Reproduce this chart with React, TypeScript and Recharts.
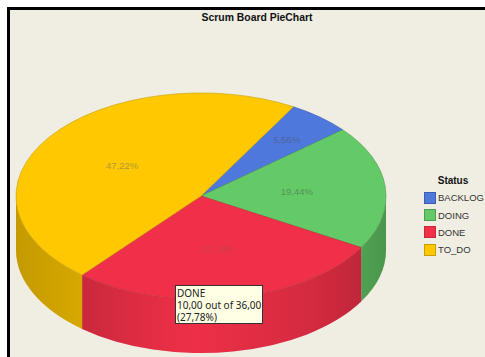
import React from "react";
import { PieChart, Pie, Cell, Legend, Tooltip } from "recharts";

// Scrum board issue counts per status
const statuses = ["BACKLOG", "DOING", "DONE", "TO_DO"];
const counts = [2, 7, 10, 17];
const topColors = ["#4f78dc", "#64ca68", "#f03048", "#ffc800"];
const outline = ["#3c5cae", "#4f9a50", "#c4293c", "#c69f00"];
const labelInk = ["#4e649e", "#569058", "#c9404f", "#b09a38"];

// Shading across the rim: [offset, darkness]
const rimShade: [number, number][] = [
  [0, 0.23],
  [0.18, 0.16],
  [0.34, 0.07],
  [0.48, 0.01],
  [0.6, 0.05],
  [0.8, 0.12],
  [0.93, 0.2],
  [1, 0.26],
];

const rows = statuses.map((name, i) => ({ name, value: counts[i] }));
const total = counts.reduce((a, b) => a + b, 0);

// Vertical squash of the disc and thickness of its rim
const TILT = 0.557;
const DEPTH = 54;
const FONT = "'Liberation Sans', Arial, sans-serif";

const pct = (p: number) => (p * 100).toFixed(2).replace(".", ",") + "%";
const rad = (d: number) => (d * Math.PI) / 180;

function DiscSlice(props: any) {
  const { cx, cy, outerRadius: rx, startAngle, endAngle, index = 0 } = props;
  const ry = rx * TILT;
  const px = (a: number) => cx + rx * Math.cos(rad(a));
  const py = (a: number) => cy - ry * Math.sin(rad(a));
  const large = Math.abs(startAngle - endAngle) > 180 ? 1 : 0;
  const top = `M${cx},${cy} L${px(startAngle)},${py(startAngle)} A${rx},${ry} 0 ${large} 1 ${px(endAngle)},${py(endAngle)} Z`;

  // Only the part of the slice facing the viewer shows a rim
  const a = Math.min(startAngle, 0);
  const b = Math.max(endAngle, -180);
  const gid = `rim-${index}`;
  const rim = `M${px(a)},${py(a)} A${rx},${ry} 0 0 1 ${px(b)},${py(b)} L${px(b)},${py(b) + DEPTH} A${rx},${ry} 0 0 0 ${px(a)},${py(a) + DEPTH} Z`;
  return (
    <g>
      {a > b && (
        <>
          <defs>
            <linearGradient id={gid} gradientUnits="userSpaceOnUse" x1={cx - rx} x2={cx + rx} y1={0} y2={0}>
              {rimShade.map(([o, d]) => (
                <stop key={o} offset={o} stopColor="#000" stopOpacity={d} />
              ))}
            </linearGradient>
          </defs>
          <path d={rim} fill={topColors[index]} />
          <path d={rim} fill={`url(#${gid})`} />
        </>
      )}
      <path d={top} fill={topColors[index]} stroke={outline[index]} strokeWidth={0.6} />
    </g>
  );
}

function SliceLabel(props: any) {
  const { cx, cy, outerRadius: rx, midAngle, percent, index } = props;
  const f = percent < 0.1 ? 0.72 : 0.52;
  const x = cx + rx * f * Math.cos(rad(midAngle));
  const y = cy - rx * TILT * f * Math.sin(rad(midAngle));
  return (
    <text x={x} y={y} textAnchor="middle" dominantBaseline="central" fontFamily={FONT} fontSize={9.5} fill={labelInk[index]} stroke="none">
      {pct(percent)}
    </text>
  );
}

function StatusLegend({ payload }: any) {
  const items = payload ?? [];
  return (
    <div style={{ fontFamily: FONT, fontSize: 9.5, color: "#333", width: 62 }}>
      <div style={{ fontWeight: "bold", color: "#111", textAlign: "center", fontSize: 10, height: 15, lineHeight: "13px", paddingRight: 2 }}>Status</div>
      {items.map((it: any, i: number) => (
        <div key={it.value} style={{ display: "flex", alignItems: "center", height: 17.4 }}>
          <span style={{ width: 10, height: 10, background: topColors[i], border: `1px solid ${outline[i]}`, marginLeft: 1, marginRight: 2, flex: "none" }} />
          <span>{it.value}</span>
        </div>
      ))}
    </div>
  );
}

function StatusTip({ payload }: any) {
  const p = payload?.[0];
  if (!p) return null;
  const v = (n: number) => n.toFixed(2).replace(".", ",");
  return (
    <div
      style={{
        width: 85,
        height: 36,
        background: "#ffffe4",
        border: "1px solid #333",
        fontFamily: "'Noto Sans', sans-serif",
        fontSize: 10,
        lineHeight: "12px",
        color: "#222",
        paddingLeft: 1,
        paddingTop: 1,
        whiteSpace: "nowrap",
        overflow: "hidden",
      }}
    >
      <div>{p.name}</div>
      <div>{`${v(p.value)} out of ${v(total)}`}</div>
      <div>({pct(p.value / total)})</div>
    </div>
  );
}

export default function App() {
  return (
    <div style={{ position: "absolute", left: 0, top: 0, width: 485, height: 357, overflow: "hidden", background: "#fff" }}>
      <div
        style={{
          position: "absolute",
          left: 7,
          top: 7,
          width: 478,
          height: 350,
          boxSizing: "border-box",
          background: "#f0eee3",
          borderLeft: "3px solid #000",
          borderTop: "3px solid #000",
        }}
      />
      <div
        style={{
          position: "absolute",
          left: 157,
          width: 200,
          top: 12,
          textAlign: "center",
          fontFamily: FONT,
          fontWeight: "bold",
          fontSize: 10.4,
          lineHeight: "12px",
          color: "#111",
        }}
      >
        Scrum Board PieChart
      </div>
      <PieChart width={485} height={357} style={{ position: "absolute", left: 0, top: 0 }} margin={{ top: 0, right: 0, bottom: 0, left: 0 }}>
        <Pie
          data={rows}
          dataKey="value"
          nameKey="name"
          cx={201}
          cy={196}
          outerRadius={185}
          startAngle={60}
          endAngle={-300}
          paddingAngle={0}
          isAnimationActive={false}
          shape={DiscSlice}
          label={SliceLabel}
          labelLine={false}
        >
          {rows.map((r, i) => (
            <Cell key={r.name} fill={topColors[i]} />
          ))}
        </Pie>
        <Legend
          layout="vertical"
          align="right"
          verticalAlign="top"
          wrapperStyle={{ left: 423, right: "auto", top: 174, width: 62, margin: 0 }}
          content={<StatusLegend />}
        />
        <Tooltip
          defaultIndex={2}
          active
          isAnimationActive={false}
          position={{ x: 175, y: 285 }}
          wrapperStyle={{ outline: "none" }}
          content={<StatusTip />}
        />
      </PieChart>
    </div>
  );
}
